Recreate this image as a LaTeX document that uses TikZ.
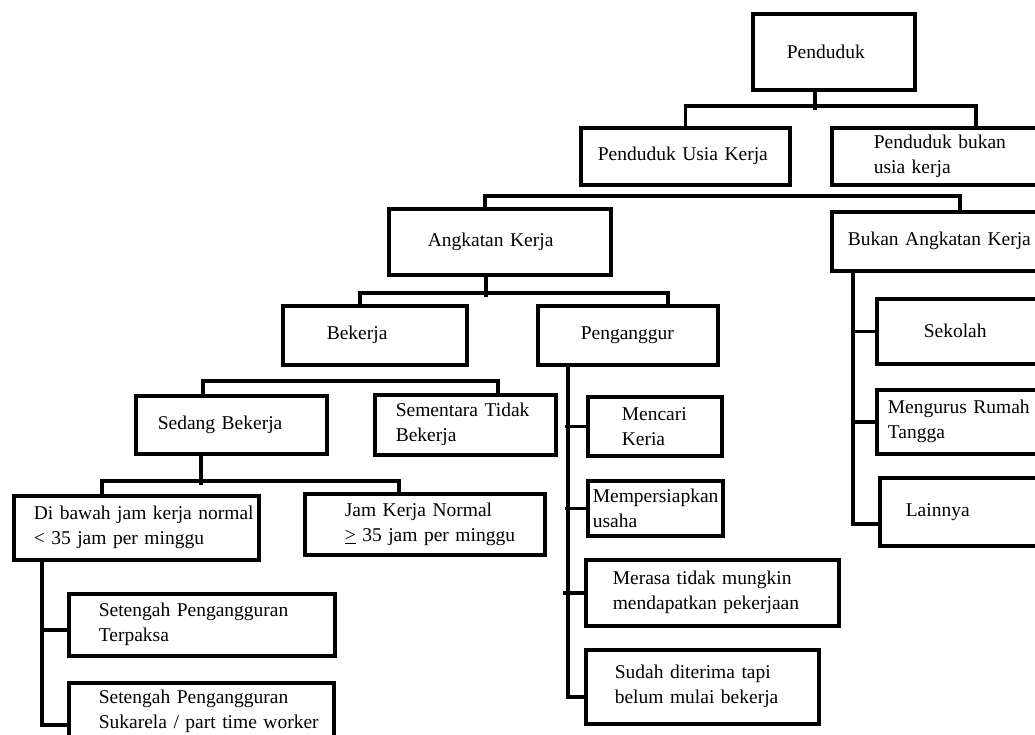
\documentclass[tikz,border=0pt]{standalone}
\usepackage{fontspec}
\setmainfont{Liberation Serif}
\newcommand{\padl}[1]{\hspace*{#1}}
\tikzset{
  box/.style={draw, line width=3.6pt, anchor=north west, inner xsep=0pt, inner ysep=0pt,
    align=left, font=\fontsize{19.5pt}{25pt}\selectfont},
  conn/.style={line width=3.6pt},
}
\begin{document}
\begin{tikzpicture}[x=1pt, y=-1pt]
    \useasboundingbox (0,0) rectangle (1035,735);
    \clip (0,0) rectangle (1035,735);

    % top levels
    \node [box, text width=162pt, minimum height=76pt] (pdk) at (751,12) {\padl{34pt}Penduduk};
    \node [box, text width=209pt, minimum height=57pt] (puk) at (579,126) {\padl{17pt}Penduduk Usia Kerja};
    \node [box, text width=288pt, minimum height=57pt] (pbuk) at (830,126) {\padl{42pt}Penduduk bukan\\\padl{42pt}usia kerja};
    \node [box, text width=222pt, minimum height=66pt] (ak) at (387,207) {\padl{39pt}Angkatan Kerja};
    \node [box, text width=256pt, minimum height=59pt] (bak) at (830,210) {\padl{16pt}Bukan Angkatan Kerja};
    \node [box, text width=184pt, minimum height=59pt] (bek) at (281,304) {\padl{44pt}Bekerja};
    \node [box, text width=180pt, minimum height=59pt] (peng) at (536,304) {\padl{43pt}Penganggur};

    % bekerja
    \node [box, text width=191pt, minimum height=58pt] (sedb) at (134,394) {\padl{22pt}Sedang Bekerja};
    \node [box, text width=181pt, minimum height=60pt] (stb) at (373,393) {\padl{21pt}Sementara Tidak\\\padl{21pt}Bekerja};
    \node [box, text width=245pt, minimum height=64pt] (dbw) at (12,494) {\padl{20pt}Di bawah jam kerja normal\\\padl{20pt}< 35 jam per minggu};
    \node [box, text width=240pt, minimum height=61pt] (jkn) at (303,492) {\padl{40pt}Jam Kerja Normal\\\padl{40pt}\underline{>} 35 jam per minggu};
    \node [box, text width=266pt, minimum height=62pt] (spt) at (67,592) {\padl{30pt}Setengah Pengangguran\\\padl{30pt}Terpaksa};
    \node [box, text width=265pt, minimum height=58pt] (sps) at (67,681) {\padl{30pt}Setengah Pengangguran\\\padl{30pt}Sukarela / part time worker};

    % penganggur
    \node [box, text width=134pt, minimum height=59pt] (mk) at (586,395) {\padl{34pt}Mencari\\\padl{34pt}Keria};
    \node [box, text width=135pt, minimum height=55pt] (mu) at (586,479) {\padl{5pt}Mempersiapkan\\\padl{5pt}usaha};
    \node [box, text width=253pt, minimum height=66pt] (mt) at (584,558) {\padl{27pt}Merasa tidak mungkin\\\padl{27pt}mendapatkan pekerjaan};
    \node [box, text width=233pt, minimum height=74pt] (sd) at (584,648) {\padl{29pt}Sudah diterima tapi\\\padl{29pt}belum mulai bekerja};

    % bukan angkatan kerja
    \node [box, text width=200pt, minimum height=65pt] (sek) at (875,297) {\padl{47pt}Sekolah};
    \node [box, text width=200pt, minimum height=64pt] (mrt) at (875,388) {\padl{11pt}Mengurus Rumah\\\padl{11pt}Tangga};
    \node [box, text width=200pt, minimum height=68pt] (lain) at (878,476) {\padl{26pt}Lainnya};

    % connectors
    \draw [conn] ([xshift=-19pt]pdk.south) -- ++(0,18);
    \draw [conn] (puk.north) -- ++(0,-20) -| (pbuk.north);
    \draw [conn] ([xshift=-15pt]ak.north) -- ++(0,-11) -| (bak.north);
    \draw [conn] ([xshift=-14pt]ak.south) -- ++(0,20);
    \draw [conn] ([xshift=-15pt]bek.north) -- ++(0,-11) -| ([xshift=40pt]peng.north);
    \draw [conn] ([xshift=-28.5pt]sedb.north) -- ++(0,-13) -| ([xshift=32.5pt]stb.north);
    \draw [conn] ([xshift=-30.5pt]sedb.south) -- ++(0,29);
    \draw [conn] ([xshift=-34.5pt]dbw.north) -- ++(0,-13) -| ([xshift=-26pt]jkn.north);

    % side branches
    \draw [conn] ([xshift=-94.5pt]dbw.south) |- ([yshift=-13pt]sps.west);
    \draw [conn] ([yshift=-5pt]spt.west) -- ++(-27,0);
    \draw [conn] ([xshift=-60pt]peng.south) |- ([yshift=-10pt]sd.west);
    \foreach \n in {mk, mu, mt}
        \draw [conn] (\n.west) -- ++(-21,0);
    \draw [conn] ([xshift=-107pt]bak.south) |- ([yshift=-12pt]lain.west);
    \foreach \n in {sek, mrt}
        \draw [conn] (\n.west) -- ++(-24,0);
\end{tikzpicture}
\end{document}
